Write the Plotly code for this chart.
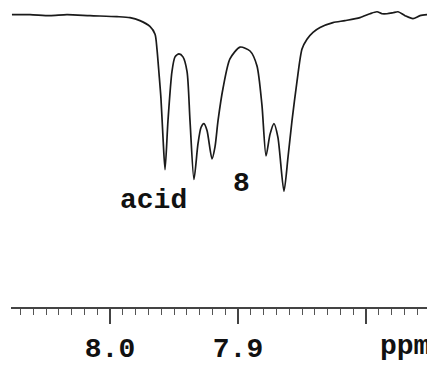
import plotly.graph_objects as go

# Spectrum trace (ppm, intensity; peaks point downward)
ppm = [8.0766, 8.0625, 8.0469, 8.0336, 8.0156, 7.9945, 7.9844, 7.9766, 7.9688, 7.9648,
       7.9633, 7.9617, 7.9602, 7.9586, 7.9570, 7.9547, 7.9516, 7.9492, 7.9461, 7.9430,
       7.9398, 7.9375, 7.9344, 7.9313, 7.9289, 7.9266, 7.9242, 7.9203, 7.9180, 7.9156,
       7.9117, 7.9063, 7.8984, 7.8906, 7.8852, 7.8813, 7.8781, 7.8750, 7.8719, 7.8688,
       7.8641, 7.8609, 7.8578, 7.8539, 7.8500, 7.8461, 7.8414, 7.8359, 7.8258, 7.8164,
       7.8047, 7.7969, 7.7914, 7.7875, 7.7836, 7.7789, 7.7750, 7.7695, 7.7633, 7.7578,
       7.7523]
intensity = [0, 0, -1, 0, -1, -2, -3, -6, -12, -20,
             -35, -60, -85, -125, -158, -108, -58, -43, -40, -43,
             -58, -108, -168, -132, -115, -111, -118, -147, -135, -108,
             -75, -45, -33, -37, -52, -92, -144, -122, -111, -125,
             -180, -145, -108, -68, -35, -25, -18, -13, -8, -6,
             -3, 1, 3, 1, 1, 2, 3, -1, -4, -1,
             0]

tick_vals = [8.0, 7.9, 7.8]
tick_text = ["8.0", "7.9", ""]

peak_labels = ["acid", "8"]
label_ppm = [7.9664, 7.8969]
label_int = [-189, -172]

MONO = "Liberation Mono, Courier New, monospace"
FSIZE = 28

fig = go.Figure()
fig.add_trace(go.Scatter(
    x=ppm, y=intensity, mode="lines",
    line=dict(color="#1a1a1a", width=1.7, shape="spline", smoothing=0.7),
    hoverinfo="skip", showlegend=False,
))

for t, xv, yv in zip(peak_labels, label_ppm, label_int):
    fig.add_annotation(x=xv, y=yv, text=t, showarrow=False,
                       font=dict(family=MONO, size=FSIZE, color="#111", weight="bold"),
                       xanchor="center", yanchor="middle")

fig.add_annotation(x=7.7906, xref="x", y=-0.128, yref="paper", text="ppm",
                   showarrow=False, xanchor="left", yanchor="middle",
                   font=dict(family=MONO, size=FSIZE, color="#111", weight="bold"))

fig.update_layout(
    width=427, height=365,
    margin=dict(l=11, r=0, t=0, b=52),
    paper_bgcolor="white", plot_bgcolor="white",
    xaxis=dict(
        range=[8.07734, 7.75234], showgrid=False, zeroline=False,
        showline=True, linecolor="#444", linewidth=1.5,
        tickmode="array", tickvals=tick_vals, ticktext=tick_text,
        ticks="outside", ticklen=15, tickwidth=1.5, tickcolor="#444",
        tickfont=dict(family=MONO, size=FSIZE, color="#111", weight="bold"),
        minor=dict(dtick=0.01, tick0=8.0, ticks="outside", ticklen=6,
                   tickwidth=1.2, tickcolor="#555", showgrid=False),
    ),
    yaxis=dict(range=[-298, 15], visible=False, showgrid=False, zeroline=False),
)

fig.write_html("out.html")
